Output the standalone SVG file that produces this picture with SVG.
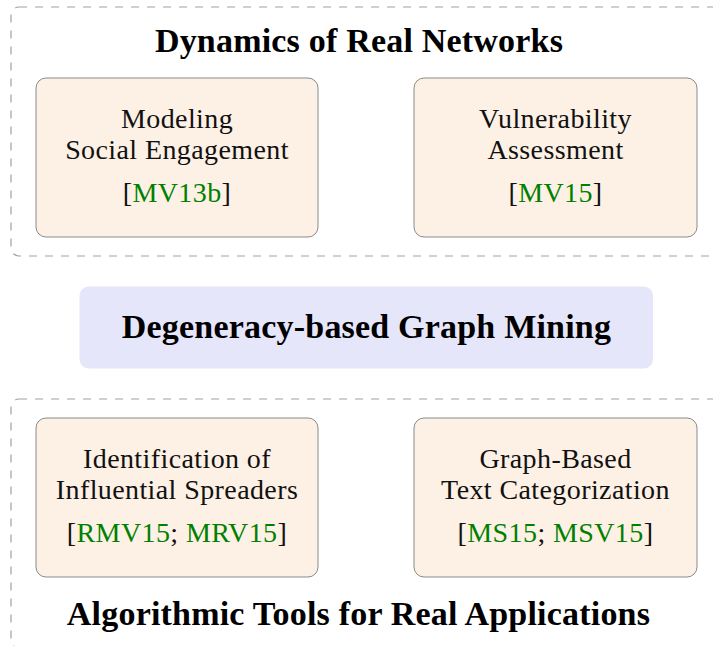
<svg xmlns="http://www.w3.org/2000/svg" width="713" height="646" viewBox="0 0 713 646">
  <style>
    .container { fill: none; stroke: #a0a0a0; stroke-width: 1.2; stroke-dasharray: 8 8; }
    .box { fill: #fdf0e5; stroke: #8a8a8a; stroke-width: 1; }
    .core { fill: #e6e6fb; stroke: none; }
    .title { font-family: "Liberation Serif", "DejaVu Serif", serif; font-weight: bold; font-size: 34px; letter-spacing: 0.2px; fill: #000; text-anchor: middle; }
    .label { font-family: "Liberation Serif", "DejaVu Serif", serif; font-size: 28px; letter-spacing: 0.4px; fill: #111; text-anchor: middle; }
    .cite { font-family: "Liberation Serif", "DejaVu Serif", serif; font-size: 28px; letter-spacing: 0.4px; fill: #008000; }
  </style>
  <rect width="713" height="646" fill="#ffffff"/>

  <g id="group-dynamics">
    <rect class="container" x="11" y="7" width="720" height="249" rx="8" ry="8"/>
    <text class="title" x="359" y="52">Dynamics of Real Networks</text>
  </g>

  <g id="node-modeling">
    <rect class="box" x="36" y="78" width="282" height="159" rx="10" ry="10"/>
    <text class="label" x="177" y="128">Modeling</text>
    <text class="label" x="177" y="159">Social Engagement</text>
    <text class="label" x="177" y="202">[<tspan class="cite">MV13b</tspan>]</text>
  </g>

  <g id="node-vulnerability">
    <rect class="box" x="414" y="78" width="283" height="159" rx="10" ry="10"/>
    <text class="label" x="555.5" y="128">Vulnerability</text>
    <text class="label" x="555.5" y="159">Assessment</text>
    <text class="label" x="555.5" y="202">[<tspan class="cite">MV15</tspan>]</text>
  </g>

  <g id="node-core">
    <rect class="core" x="79.5" y="286.5" width="573.5" height="82" rx="9" ry="9"/>
    <text class="title" x="366.5" y="338">Degeneracy-based Graph Mining</text>
  </g>

  <g id="group-algorithmic">
    <rect class="container" x="11" y="399" width="720" height="249" rx="8" ry="8"/>
    <text class="title" x="358.5" y="625">Algorithmic Tools for Real Applications</text>
  </g>

  <g id="node-spreaders">
    <rect class="box" x="36" y="418" width="282" height="159" rx="10" ry="10"/>
    <text class="label" x="177" y="468">Identification of</text>
    <text class="label" x="177" y="499">Influential Spreaders</text>
    <text class="label" x="177" y="542">[<tspan class="cite">RMV15</tspan>; <tspan class="cite">MRV15</tspan>]</text>
  </g>

  <g id="node-text">
    <rect class="box" x="414" y="418" width="283" height="159" rx="10" ry="10"/>
    <text class="label" x="555.5" y="468">Graph-Based</text>
    <text class="label" x="555.5" y="499">Text Categorization</text>
    <text class="label" x="555.5" y="542">[<tspan class="cite">MS15</tspan>; <tspan class="cite">MSV15</tspan>]</text>
  </g>

  <g id="connectors"></g>
</svg>
